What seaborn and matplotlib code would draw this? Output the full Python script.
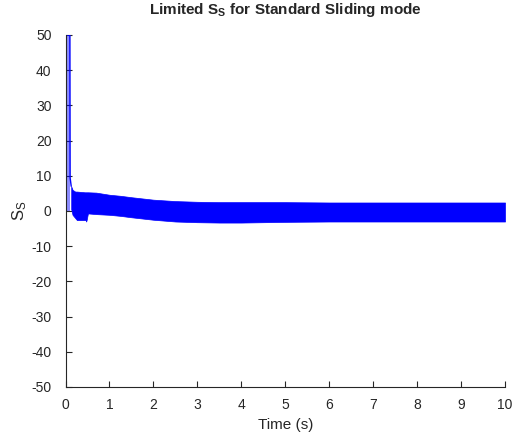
"""
plot.py - recreate the 'Limited S_S for Standard Sliding mode' chart.
"""

import matplotlib
matplotlib.use("Agg")

import numpy as np
import pandas as pd
import matplotlib.pyplot as plt
import seaborn as sns

# initial clipped spike (s_s is limited to 50)
spike_t = [0.0, 0.0, 0.10, 0.105, 0.13]
spike_s = [0.0, 50.0, 50.0, 9.4, 7.0]

# envelope of the chattering band after the spike
band_t = [0.13, 0.16, 0.22, 0.26, 0.44, 0.46, 0.47, 0.48, 0.51, 0.7, 1.0, 1.25,
          1.5, 2.0, 2.5, 3.0, 3.5, 4.0, 5.0, 6.0, 7.0, 8.0, 9.0, 10.0]
band_hi = [7.0, 6.0, 5.5, 5.5, 5.3, 5.3, 5.3, 5.3, 5.3, 5.2, 4.6, 4.3,
           3.9, 3.2, 2.8, 2.6, 2.5, 2.5, 2.5, 2.4, 2.4, 2.4, 2.4, 2.4]
band_lo = [0.5, -1.1, -2.0, -2.6, -2.6, -2.6, -3.0, -2.6, -0.7, -0.9, -1.1, -1.4,
           -1.8, -2.5, -3.0, -3.2, -3.3, -3.3, -3.1, -3.0, -3.0, -3.0, -3.0, -3.0]

x_ticks = list(range(0, 11))
y_ticks = list(range(-50, 51, 10))

sns.set_style("ticks")
plt.rcParams["font.family"] = ["Liberation Sans", "DejaVu Sans"]
plt.rcParams["mathtext.fontset"] = "custom"
plt.rcParams["mathtext.rm"] = "Liberation Sans"
plt.rcParams["mathtext.bf"] = "Liberation Sans:bold"
plt.rcParams["axes.unicode_minus"] = False  # MATLAB style "-50"

fig = plt.figure(figsize=(5.13, 4.32), dpi=100)
ax = fig.add_axes([0.1277, 0.1042, 0.8567, 0.815])

blue = (0, 0, 1)
# light area inside the clipped spike, where the line goes up and down fast
ax.fill_between(spike_t[1:3], [0, 0], [50, 50], color=blue, alpha=0.45, lw=0)
sns.lineplot(x=spike_t, y=spike_s, ax=ax, color=blue, lw=1, sort=False,
             estimator=None)
ax.fill_between(band_t, band_lo, band_hi, color=blue, lw=0.5, edgecolor=blue)

ax.set_xlim(0, 10)
ax.set_ylim(-50, 50)
ax.set_xticks(x_ticks)
ax.set_yticks(y_ticks)
ax.tick_params(direction="in", length=4, width=0.8, labelsize=10,
               colors="#262626")
ax.tick_params(axis="x", pad=8)
ax.tick_params(axis="y", pad=10)
for side in ["top", "right"]:
    ax.spines[side].set_visible(False)
for side in ["left", "bottom"]:
    ax.spines[side].set_color("#262626")
    ax.spines[side].set_linewidth(0.8)

ax.set_xlabel("Time (s)", fontsize=11, color="#262626", labelpad=4)
ax.set_ylabel(r"$\mathrm{S_S}$", fontsize=12, color="#262626", labelpad=2)
ax.set_title(r"Limited $\mathbf{S_S}$ for Standard Sliding mode",
             fontsize=11, fontweight="bold", pad=15)

fig.savefig("out.png", dpi=100)
